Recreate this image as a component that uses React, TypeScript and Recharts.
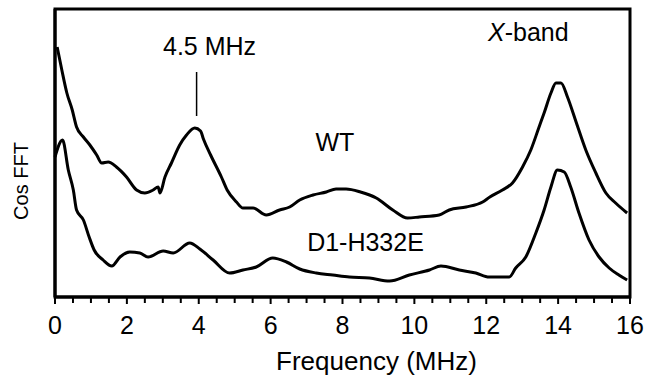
import React from 'react';
import { LineChart, Line, XAxis, YAxis, ReferenceArea, ReferenceLine, ReferenceDot } from 'recharts';

// frequency (MHz) and cosine FFT amplitude (arb. units)
const wtFreq = [0.06, 0.19, 0.33, 0.48, 0.6, 0.79, 0.97, 1.16, 1.3, 1.48, 1.71, 1.99, 2.27, 2.5, 2.73, 2.87, 2.92, 3.06, 3.24, 3.47, 3.66, 3.89, 4.05, 4.13, 4.33, 4.63, 4.79, 5.05, 5.23, 5.51, 5.88, 6.25, 6.53, 6.81, 7.18, 7.55, 7.82, 8.1, 8.5, 8.94, 9.4, 9.81, 10.14, 10.69, 10.97, 11.44, 11.9, 12.1, 12.45, 12.73, 13.01, 13.24, 13.47, 13.61, 13.8, 13.94, 14.08, 14.26, 14.5, 14.77, 15.05, 15.33, 15.6, 15.92];
const wtCos = [250, 227, 204, 187, 170, 160, 152, 142, 134, 135, 130, 120, 107, 104, 107, 110, 104, 120, 134, 152, 162, 169, 166, 158, 142, 120, 107, 95, 89, 89, 82, 87, 90, 97, 102, 105, 108, 108, 105, 99, 87, 79, 80, 82, 87, 90, 95, 100, 107, 114, 130, 147, 170, 184, 204, 214, 214, 200, 175, 147, 124, 104, 94, 84];

const mutFreq = [0.0, 0.21, 0.37, 0.51, 0.6, 0.79, 0.95, 1.09, 1.34, 1.58, 1.81, 2.08, 2.36, 2.59, 3.01, 3.29, 3.75, 4.03, 4.4, 4.86, 5.23, 5.6, 6.06, 6.44, 6.81, 7.27, 7.73, 8.19, 8.75, 9.31, 9.86, 10.42, 10.74, 11.25, 11.71, 12.08, 12.64, 12.82, 13.1, 13.38, 13.61, 13.8, 13.98, 14.17, 14.35, 14.58, 14.86, 15.14, 15.42, 15.69, 15.92];
const mutCos = [140, 157, 127, 107, 87, 77, 60, 47, 37, 31, 40, 45, 44, 40, 46, 44, 54, 48, 37, 24, 27, 30, 39, 35, 28, 24, 22, 20, 19, 16, 22, 27, 31, 27, 24, 20, 20, 29, 40, 64, 87, 110, 127, 125, 110, 84, 57, 40, 29, 22, 17];

const xTicks = Array.from({ length: 33 }, (_, i) => i * 0.5);

const wtData = wtFreq.map((f, i) => ({ f, v: wtCos[i] }));
const mutData = mutFreq.map((f, i) => ({ f, v: mutCos[i] }));

const FONT = '"Liberation Sans", Arial, Helvetica, sans-serif';

const XTick = (props: any) => {
  const { x, y, payload } = props;
  const major = payload.value % 2 === 0;
  return (
    <g>
      <line x1={x} x2={x} y1={y} y2={y + (major ? 7 : 6)} stroke="#000" strokeWidth={2} />
      {major && (
        <text x={x} y={y + 37} textAnchor="middle" fontSize={25} fontFamily={FONT} fill="#000">
          {payload.value}
        </text>
      )}
    </g>
  );
};

const textShape = (label: React.ReactNode) => (p: any) => (
  <text x={p.cx} y={p.cy} dy={9} textAnchor="middle" fontSize={25} fontFamily={FONT} fill="#000">
    {label}
  </text>
);

export default function App() {
  return (
    <div style={{ position: 'absolute', left: 0, top: 0, width: 648, height: 381, background: '#fff' }}>
      <LineChart width={648} height={381} margin={{ top: 9, right: 18, left: 0, bottom: 0 }}>
        <XAxis
          type="number"
          dataKey="f"
          domain={[0, 16]}
          ticks={xTicks}
          interval={0}
          height={84}
          tickSize={0}
          tickMargin={0}
          tick={<XTick />}
          axisLine={{ stroke: '#000', strokeWidth: 3 }}
          label={{
            content: (p: any) => (
              <text
                x={p.viewBox.x + p.viewBox.width / 2 + 34}
                y={p.viewBox.y + 73}
                textAnchor="middle"
                fontSize={26}
                fontFamily={FONT}
                fill="#000"
              >
                Frequency (MHz)
              </text>
            ),
          }}
        />
        <YAxis
          type="number"
          dataKey="v"
          domain={[0, 288]}
          width={55}
          tick={false}
          tickLine={false}
          axisLine={{ stroke: '#000', strokeWidth: 3 }}
          label={{
            content: (p: any) => {
              const cx = 28;
              const cy = p.viewBox.y + p.viewBox.height / 2 + 28;
              return (
                <text
                  x={cx}
                  y={cy}
                  transform={`rotate(-90 ${cx} ${cy})`}
                  textAnchor="middle"
                  fontSize={20}
                  fontFamily={FONT}
                  fill="#000"
                >
                  Cos FFT
                </text>
              );
            },
          }}
        />
        <ReferenceArea x1={0} x2={16} y1={0} y2={288} fill="none" stroke="#000" strokeWidth={3} ifOverflow="visible" />
        <Line data={wtData} dataKey="v" type="monotone" stroke="#000" strokeWidth={3} dot={false} isAnimationActive={false} />
        <Line data={mutData} dataKey="v" type="monotone" stroke="#000" strokeWidth={3} dot={false} isAnimationActive={false} />
        <ReferenceLine
          segment={[{ x: 3.94, y: 225 }, { x: 3.94, y: 181 }]}
          stroke="#000"
          strokeWidth={1.5}
        />
        <ReferenceDot x={4.3} y={251} r={0} shape={textShape('4.5 MHz')} />
        <ReferenceDot x={7.79} y={155.5} r={0} shape={textShape('WT')} />
        <ReferenceDot x={8.64} y={55.5} r={0} shape={textShape('D1-H332E')} />
        <ReferenceDot
          x={13.17}
          y={265.5}
          r={0}
          shape={textShape(
            <>
              <tspan fontStyle="italic">X</tspan>-band
            </>
          )}
        />
      </LineChart>
    </div>
  );
}
